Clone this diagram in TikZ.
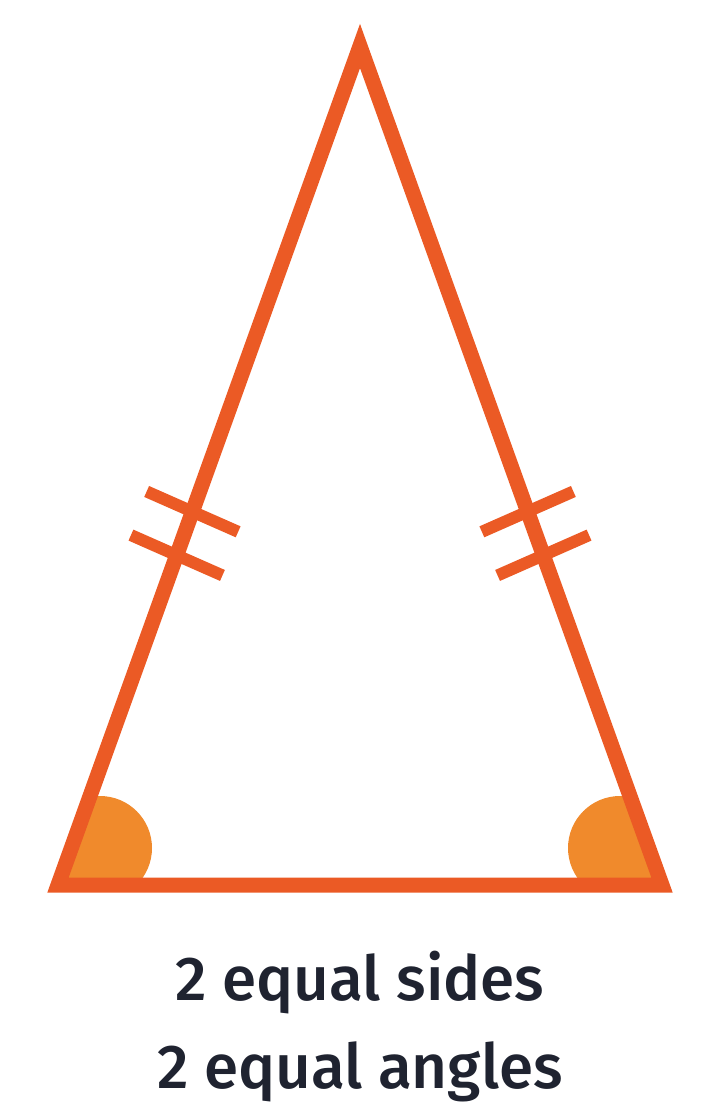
\documentclass[tikz,border=0pt]{standalone}
\usepackage{fontspec}
\setmainfont{Fira Sans}[BoldFont={Fira Sans Medium}]
\usetikzlibrary{calc}
\definecolor{sideorange}{HTML}{EB5A25}
\definecolor{angleorange}{HTML}{F08A2C}
\definecolor{labelink}{HTML}{1F2330}
\tikzset{
    side/.style={draw=sideorange, line width=7.5pt, line join=miter},
    tick/.style={draw=sideorange, line width=6pt},
    anglemark/.style={fill=angleorange},
    caption/.style={text=labelink, anchor=base, font=\fontsize{31}{36}\selectfont\bfseries}
}
\begin{document}
\begin{tikzpicture}[x=0.5pt,y=0.5pt]
        \useasboundingbox (0,0) rectangle (720,-1107);

        \coordinate (A) at (360,-46);
        \coordinate (B) at (58,-885);
        \coordinate (C) at (662,-885);

        % angle marks
        \begin{scope}
            \clip (A) -- (B) -- (C) -- cycle;
            \fill[anglemark] (100,-848) circle (52);
            \fill[anglemark] (620,-848) circle (52);
        \end{scope}

        \draw[side] (A) -- (B) -- (C) -- cycle;

        % equal side ticks
        \foreach \t in {0.393,0.445} {
            \coordinate (L) at ($(B)!\t!(A)$);
            \coordinate (R) at ($(C)!\t!(A)$);
            \draw[tick] ($(L)!25pt!86:(A)$) -- ($(L)!25pt!-94:(A)$);
            \draw[tick] ($(R)!25pt!94:(A)$) -- ($(R)!25pt!-86:(A)$);
        }

        \node[caption] (sides) at (360,-1000) {2 equal sides};
        \node[caption] (angles) at (360,-1088) {2 equal angles};
    \end{tikzpicture}
\end{document}
